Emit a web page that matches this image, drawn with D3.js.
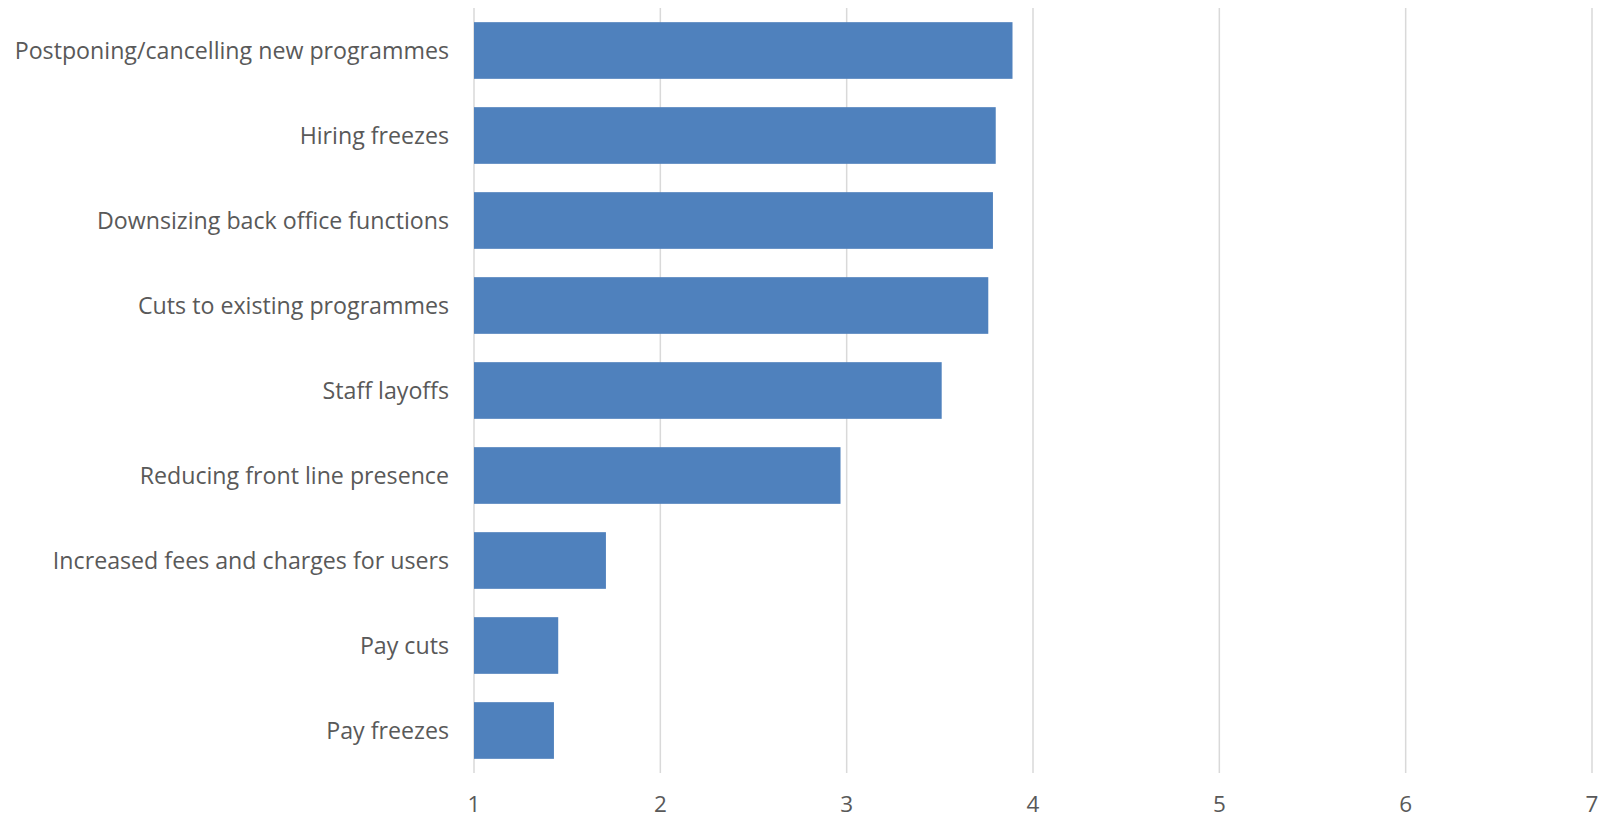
<!DOCTYPE html>
<html><head><meta charset="utf-8">
<script src="https://cdn.jsdelivr.net/npm/d3@7"></script>
<style>html,body{margin:0;padding:0;background:#fff;overflow:hidden}</style>
</head><body>
<svg id="chart" width="1610" height="820"></svg>
<script>
const categories = [
  "Postponing/cancelling new programmes",
  "Hiring freezes",
  "Downsizing back office functions",
  "Cuts to existing programmes",
  "Staff layoffs",
  "Reducing front line presence",
  "Increased fees and charges for users",
  "Pay cuts",
  "Pay freezes"
];
const values = [3.89, 3.80, 3.785, 3.76, 3.51, 2.967, 1.708, 1.452, 1.429];
const xTicks = [1, 2, 3, 4, 5, 6, 7];

(function () {
const svg = d3.select("#chart");
const mLeft = 474, mRight = 1592, mTop = 8, mBottom = 773;
const font = "'Open Sans', sans-serif";

const x = d3.scaleLinear().domain([1, 7]).range([mLeft, mRight]);
const y = d3.scaleBand().domain(categories).range([mTop, mBottom]).paddingInner(1/3).paddingOuter(1/6);

// gridlines
svg.append("g").selectAll("line").data(xTicks).join("line")
  .attr("x1", d => x(d)).attr("x2", d => x(d))
  .attr("y1", mTop).attr("y2", mBottom)
  .attr("stroke", "#d9d9d9").attr("stroke-width", 1.5);

// bars
svg.append("g").selectAll("rect").data(categories).join("rect")
  .attr("x", x(1))
  .attr("y", d => y(d))
  .attr("width", (d, i) => x(values[i]) - x(1))
  .attr("height", y.bandwidth())
  .attr("fill", "#4f81bd");

// category labels
svg.append("g").selectAll("text").data(categories).join("text")
  .attr("x", 449)
  .attr("y", d => y(d) + y.bandwidth() / 2)
  .attr("dy", "0.35em")
  .attr("text-anchor", "end")
  .attr("font-family", font).attr("font-size", 23.2)
  .attr("fill", "#595959")
  .text(d => d);

// x tick labels
svg.append("g").selectAll("text").data(xTicks).join("text")
  .attr("x", d => x(d))
  .attr("y", 812)
  .attr("text-anchor", "middle")
  .attr("font-family", font).attr("font-size", 22.5)
  .attr("fill", "#595959")
  .text(d => d);
})();
</script>
</body></html>
